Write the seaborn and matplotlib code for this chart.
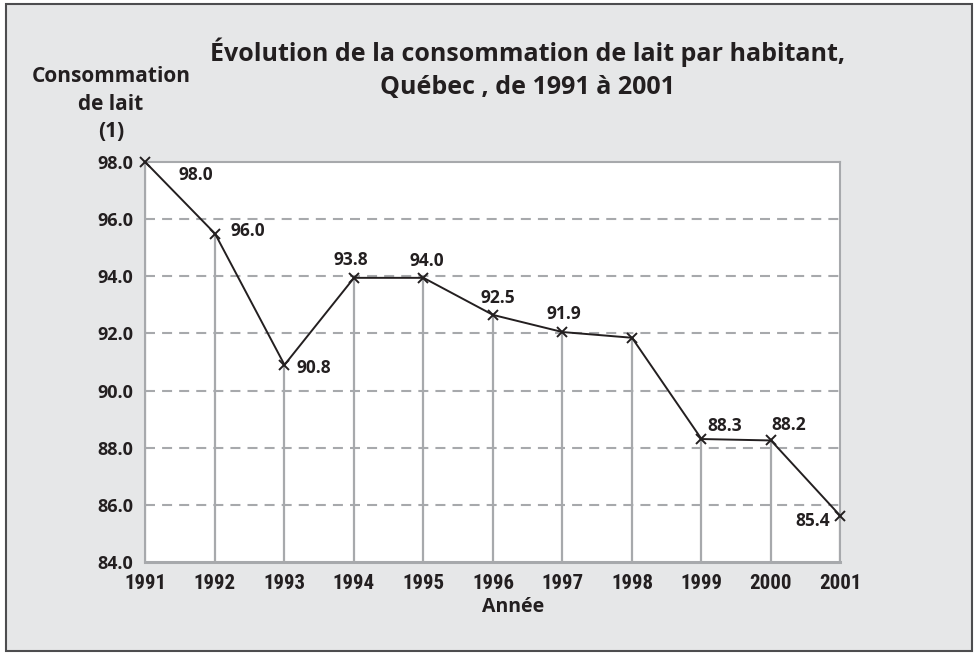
import matplotlib
matplotlib.use("Agg")
import matplotlib.pyplot as plt
from matplotlib import font_manager
import seaborn as sns
import pandas as pd
from matplotlib.patches import Rectangle

# values
years = [1991, 1992, 1993, 1994, 1995, 1996, 1997, 1998, 1999, 2000, 2001]
consommation = [98.0, 95.5, 90.9, 93.95, 93.95, 92.65, 92.05, 91.85, 88.3, 88.25, 85.6]
point_labels = ["98.0", "96.0", "90.8", "93.8", "94.0", "92.5", "91.9", "", "88.3", "88.2", "85.4"]
y_ticks = [84.0, 86.0, 88.0, 90.0, 92.0, 94.0, 96.0, 98.0]

# label offsets (points) relative to each marker
label_offsets = [(36, -9.5), (23.5, 2), (21, -2.4), (-2, 12.5), (2.5, 12.2), (3.5, 12),
                 (1, 13.2), (0, 0), (17, 9.6), (13, 10.8), (-20, -3.4)]

df = pd.DataFrame({"annee": years, "conso": consommation})

sns.set_style("white")
plt.rcParams["font.family"] = ["Open Sans", "DejaVu Sans"]

# a condensed face for the year labels, if one is installed
installed = {f.name for f in font_manager.fontManager.ttflist}
narrow = next((n for n in ["Liberation Sans Narrow", "DejaVu Sans Condensed", "Roboto Condensed",
                           "Open Sans Condensed", "Roboto"] if n in installed), "DejaVu Sans")
narrow_size = 15 if narrow != "Roboto" else 13

BG = "#e6e7e8"
GRID = "#a7a9ac"
INK = "#231f20"

fig = plt.figure(figsize=(9.78, 6.53), dpi=100, facecolor="white")
fig.patches.append(Rectangle((6 / 978, 2 / 653), 966 / 978, 647 / 653, transform=fig.transFigure,
                             facecolor=BG, edgecolor="#4d4d4f", linewidth=1.5, zorder=-5))
ax = fig.add_axes([145.5 / 978, 1 - 561.7 / 653, 695 / 978, 399.4 / 653])
ax.set_zorder(2)
ax.set_facecolor("white")

# dashed horizontal grid
for yv in y_ticks[1:-1]:
    ax.axhline(yv, color=GRID, lw=1.5, linestyle=(0, (4.8, 3.4)), zorder=1)

# drop lines from each point to the axis
ax.vlines(df["annee"], 84.0, df["conso"], color=GRID, lw=1.6, zorder=2)

sns.lineplot(data=df, x="annee", y="conso", ax=ax, color=INK, lw=1.4,
             marker="x", markersize=6.5, markeredgewidth=1.4, markeredgecolor=INK, zorder=3)
for ln in ax.lines:
    ln.set_clip_on(False)

for x, y, lab, off in zip(years, consommation, point_labels, label_offsets):
    if lab:
        ax.annotate(lab, (x, y), xytext=off, textcoords="offset points",
                    ha="center", va="center", fontsize=12.5, fontweight="bold", color=INK)

ax.set_xlim(1991, 2001)
ax.set_ylim(84, 98)
ax.set_xticks(years)
ax.set_xticklabels([str(y) for y in years], family=[narrow, "DejaVu Sans"],
                   fontsize=narrow_size, fontweight="bold", color=INK)
ax.set_yticks(y_ticks)
ax.set_yticklabels([f"{v:.1f}" for v in y_ticks], fontsize=13, fontweight="bold", color=INK)
ax.tick_params(axis="x", length=4, width=1.2, color=GRID, pad=5)
ax.tick_params(axis="y", length=0, pad=9)
ax.set_xlabel("Année", fontsize=14, fontweight="bold", color=INK)
ax.xaxis.set_label_coords(0.529, -0.088)
ax.set_ylabel("")

for side in ["top", "right", "left"]:
    ax.spines[side].set_color(GRID)
    ax.spines[side].set_linewidth(1.5)
ax.spines["bottom"].set_color(GRID)
ax.spines["bottom"].set_linewidth(2.2)

fig.text(111 / 978, 1 - 104 / 653, "Consommation\nde lait\n(1)", ha="center", va="center",
         multialignment="center", fontsize=15, fontweight="bold", color=INK, linespacing=1.4)
fig.text(528 / 978, 1 - 69 / 653, "Évolution de la consommation de lait par habitant,\nQuébec , de 1991 à 2001",
         ha="center", va="center", multialignment="center", fontsize=18, fontweight="bold",
         color=INK, linespacing=1.4)

fig.savefig("out.png", dpi=100, facecolor=fig.get_facecolor())
